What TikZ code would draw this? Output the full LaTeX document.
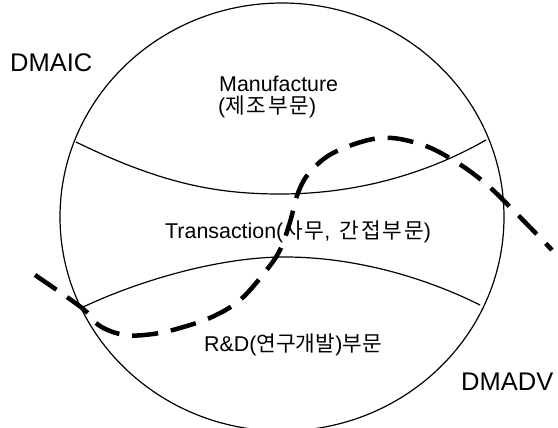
\documentclass[tikz,border=0pt]{standalone}
\usepackage{fontspec}
\setmainfont{Liberation Sans}
\newfontfamily\kr{Noto Sans CJK KR}
\newfontfamily\krw[LetterSpace=8]{Noto Sans CJK KR}
\begin{document}
\begin{tikzpicture}[x=1pt,y=-1pt,
  thinline/.style={line width=1.2pt},
  bigdash/.style={line width=4.5pt, dash pattern=on 26pt off 13pt},
  lbl/.style={inner sep=0pt, anchor=base west, font=\fontsize{21.4}{24}\selectfont},
  biglbl/.style={inner sep=0pt, anchor=base west, font=\fontsize{25.5}{28}\selectfont}]
\useasboundingbox (0,0) rectangle (558,428);
\draw[thinline] (282,217) ellipse [x radius=222, y radius=214];
\draw[thinline] (76,142) .. controls (160,183) and (215,194) .. (280,194) .. controls (360,194) and (430,172) .. (486,140);
\draw[thinline] (81,308) .. controls (140,280) and (220,257) .. (285,257) .. controls (350,257) and (420,275) .. (480,305);
\draw[bigdash] plot[smooth, tension=0.6] coordinates {(35,275) (82,308) (100,326) (125,335) (153,334) (180,328) (212,317) (240,300) (265,272) (280,250) (290,222) (298,193) (310,172) (335,152) (380,138) (420,144) (453,160) (485,183) (515,212) (552,250)};
\node[biglbl] (dmaic) at (10,72) {DMAIC};
\node[biglbl] (dmadv) at (461,390) {DMADV};
\node[lbl] (manu) at (219,92) {Manufacture};
\node[lbl] (manukr) at (218,114) {({\krw 제조부문})};
\node[lbl] (trans) at (165,239) {Transaction({\krw 사무}, \,{\krw 간접부문})};
\node[lbl] (rd) at (204,351) {R\&D({\kr 연구개발}){\kr 부문}};
\end{tikzpicture}
\end{document}
